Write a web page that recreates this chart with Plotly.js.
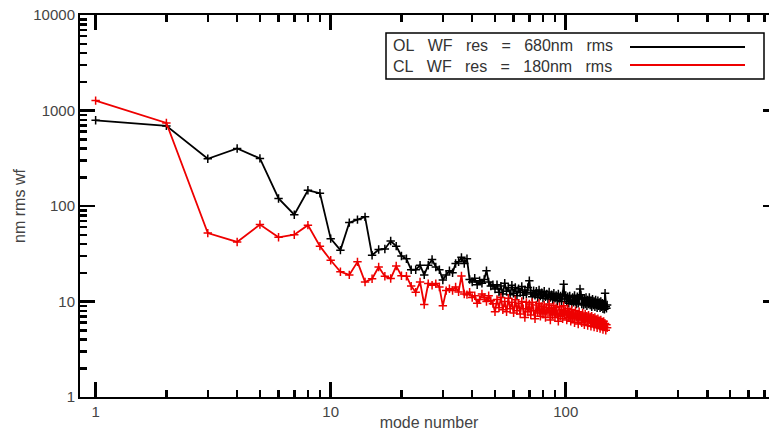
<!DOCTYPE html>
<html><head><meta charset="utf-8">
<script src="https://cdn.plot.ly/plotly-3.0.1.min.js"></script>
<style>html,body{margin:0;padding:0;overflow:hidden;background:#fff;width:769px;height:431px}</style>
</head><body><div id="chart" style="width:790px;height:431px"></div>
<script>
const modeNumbers = [1,2,3,4,5,6,7,8,9,10,11,12,13,14,15,16,17,18,19,20,21,22,23,24,25,26,27,28,29,30,
31,32,33,34,35,36,37,38,39,40,41,42,43,44,45,46,47,48,49,50,51,52,53,54,55,56,57,58,59,60,
61,62,63,64,65,66,67,68,69,70,71,72,73,74,75,76,77,78,79,80,81,82,83,84,85,86,87,88,89,90,
91,92,93,94,95,96,97,98,99,100,101,102,103,104,105,106,107,108,109,110,111,112,113,114,115,116,117,118,119,120,
121,122,123,124,125,126,127,128,129,130,131,132,133,134,135,136,137,138,139,140,141,142,143,144,145,146,147,148,149,150];
const olResidual = [790,690,312,400,315,120,81,146,136,45.5,34.5,67,72,77,30.5,35,35.5,43,38,30,
28,21.5,21.5,24,19,24,27.5,23,21.5,16.8,19,21,20,25,26,29,25,28,17,16,
17.5,15,16.5,15.5,17,21,16,14.5,15,13.5,
15,12.5,14.5,12,15.5,12.8,14,11.8,14.8,12.2,
14,11.5,13.6,12.4,14.4,11.6,13.2,12,14,16.5,
12.4,11.2,13,11.6,12.8,11,13.2,11.4,12.4,10.8,
12.8,11.2,12,10.6,12.6,11,11.8,10.4,12.2,10.8,
11.6,10.2,12,10.6,11.4,10,11.8,15.2,10.6,11.6,
10,11.2,9.6,11.4,10.2,9.4,11,9.8,11.6,10,
9.4,11.2,9.6,10.6,13.5,11.8,9.4,10.8,9.2,10.6,
9.4,11,9,10.4,9.4,11,9.2,10.2,8.8,10.6,
9.2,10,8.8,10.4,9.2,8.6,10.2,9,9.8,8.6,
10,8.8,9.6,8.4,9.4,8.3,12.2,8.8,8.5,9.2];
const clResidual = [1270,740,52,42,64,47,50,63,38,27,20.5,19,26,16,17.3,23,18.4,17.4,23.5,18.6,
18.4,14.5,12.5,16,9.3,15.4,14.8,15.4,14.2,9,13,13.6,13,14.2,12.6,18.5,12,11.8,12.5,11,
11.5,9.6,10.5,12,11,10,11.5,10.2,9.5,7.8,
10.5,8.6,11,8.2,10,7.8,10.8,8.4,9.8,7.6,
10.4,8,9.6,7.4,10,8.4,6.8,9.8,7.8,9.4,
7.2,9.8,8,6.6,9.2,7.6,9.6,7,8.8,7.4,
9.2,6.8,8.6,7.6,9.4,6.4,8.4,7.2,9,6.8,
8.6,7.4,6.2,8.8,7,8.2,6.6,9,7.2,8,
6.4,8.4,6.8,7.8,6.2,8.2,6.6,7.6,6,8,
6.8,7.4,5.8,7.8,6.4,7.2,6,7.6,6.6,5.7,
7.4,6.2,7,5.6,7.2,6.4,6.9,5.5,7,6,
6.7,5.4,6.8,5.9,6.5,5.3,6.6,5.8,6.3,5.2,
6.4,5.6,6.1,5.1,6.2,5.4,5.9,5,5.7,5.3];
const seriesNames = ["OL   WF   res   =   680nm   rms", "CL   WF   res   =   180nm   rms"];
const seriesColors = ["#000000", "#ee0000"];
const xTickVals = [1, 10, 100];
const xTickText = ["1", "10", "100"];
const yTickVals = [1, 10, 100, 1000, 10000];
const yTickText = ["1", "10", "100", "1000", "10000"];
const xMinorVals = [2,3,4,5,6,7,8,9,20,30,40,50,60,70,80,90,200,300,400,500,600,700];
const yMinorVals = [2,3,4,5,6,7,8,9,20,30,40,50,60,70,80,90,200,300,400,500,600,700,800,900,
  2000,3000,4000,5000,6000,7000,8000,9000];

// plot-area pixel geometry (legend decorations only)
const L = 80, R = 778, T = 15, B = 397;
const xRange = [Math.log10(0.858), 2.903];
const yRange = [0, 4];
const px = x => (x - L) / (R - L);
const py = y => (B - y) / (B - T);

const ys = [olResidual, clResidual];
const traces = ys.map((y, i) => ({
  x: modeNumbers, y: y, type: 'scatter', mode: 'lines+markers', name: seriesNames[i],
  line: {color: seriesColors[i], width: 1.8},
  marker: {symbol: 'cross-thin', size: 6, line: {color: seriesColors[i], width: 1.5}},
  showlegend: false
}));
traces.push({x: [null], y: [null], xaxis: 'x2', yaxis: 'y', type: 'scatter', mode: 'lines', showlegend: false, hoverinfo: 'skip'});
traces.push({x: [null], y: [null], xaxis: 'x', yaxis: 'y2', type: 'scatter', mode: 'lines', showlegend: false, hoverinfo: 'skip'});

const tickFont = {family: 'Liberation Sans, Arial, sans-serif', size: 15, color: '#444'};
const axisCommon = {
  type: 'log', showline: true, linecolor: '#000', linewidth: 2, mirror: 'ticks',
  ticks: 'inside', ticklen: 15, tickwidth: 2.5, tickcolor: '#000000',
  showgrid: true, gridcolor: 'rgba(0,0,0,0)', tickfont: tickFont
};
const minorAxis = {
  type: 'log', showline: false, mirror: 'ticks', ticks: 'inside', ticklen: 7, tickwidth: 2.5,
  tickcolor: '#000000', showgrid: true, gridcolor: 'rgba(0,0,0,0)', showticklabels: false
};

const shapes = [{type: 'rect', xref: 'paper', yref: 'paper', x0: px(386), x1: px(764), y0: py(79), y1: py(33),
   line: {color: '#000', width: 1.5}, fillcolor: '#fff'}];
[47, 65].forEach((yy, i) => {
  shapes.push({type: 'line', xref: 'paper', yref: 'paper', x0: px(630), x1: px(745), y0: py(yy), y1: py(yy),
    line: {color: seriesColors[i], width: 2}});
});
const annotations = [{
  xref: 'paper', yref: 'paper', x: px(391), y: py(56), xanchor: 'left', yanchor: 'middle', align: 'left',
  text: seriesNames.map(s => s.replace(/ /g, '&nbsp;')).join('<br>'), showarrow: false,
  font: {family: 'Liberation Sans, Arial, sans-serif', size: 16, color: '#333'}
}];

const layout = {
  width: 790, height: 431,
  margin: {l: L, r: 790 - R, t: T, b: 431 - B},
  xaxis: Object.assign({}, axisCommon, {
    range: xRange, tickvals: xTickVals, ticktext: xTickText,
    title: {text: 'mode number', font: {family: 'Liberation Sans, Arial, sans-serif', size: 16, color: '#444'}, standoff: 6}
  }),
  yaxis: Object.assign({}, axisCommon, {
    range: yRange, tickvals: yTickVals, ticktext: yTickText,
    title: {text: 'nm rms wf', font: {family: 'Liberation Sans, Arial, sans-serif', size: 16, color: '#444'}, standoff: 4}
  }),
  xaxis2: Object.assign({}, minorAxis, {range: xRange, tickvals: xMinorVals, overlaying: 'x', anchor: 'y', side: 'bottom'}),
  yaxis2: Object.assign({}, minorAxis, {range: yRange, tickvals: yMinorVals, overlaying: 'y', anchor: 'x', side: 'left'}),
  shapes: shapes, annotations: annotations, showlegend: false
};

Plotly.newPlot('chart', traces, layout, {displayModeBar: false, staticPlot: true});
</script></body></html>
